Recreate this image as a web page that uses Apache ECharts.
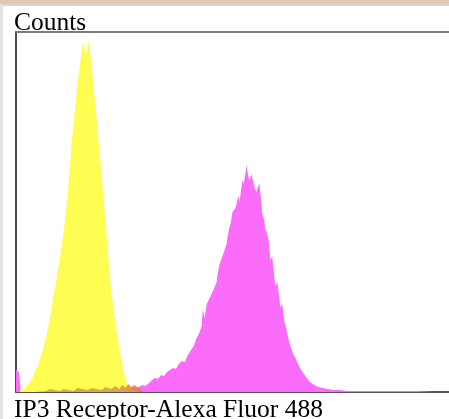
<!DOCTYPE html>
<html><head><meta charset="utf-8">
<script src="https://cdn.jsdelivr.net/npm/echarts@6/dist/echarts.min.js"></script>
<style>html,body{margin:0;padding:0;background:#fff;}#c{width:449px;height:419px;}</style>
</head><body><div id="c"></div>
<script>
// channel positions (fluorescence channel) and event counts
const yellowCh = [4,8,11,14,17,20,23,26,29,32,35,37,40,43,46,48,50,52,54,56,58,60,62,64,66,67,69,71,73,74,76,78,80,82,84,86,88,90,92,94,96,98,100,102,104,106,108,110,112,115,119,124];
const yellowCounts = [2,3,6,10,15,22,29,38,50,63,78,92,108,126,146,160,178,196,222,248,268,288,308,324,340,350,343,338,352,346,328,305,288,265,240,220,198,172,148,122,100,85,70,55,44,32,22,14,8,4,2,0];

const magentaCh = [0,3,5,40,80,109,114,119,124,127,130,134,137,140,143,146,149,152,155,158,161,164,167,170,173,175,177,179,181,183,185,187,188,190,192,194,196,198,200,202,203,205,206,208,210,212,213,215,216,218,219,221,222,224,225,227,228,229,231,232,234,235,237,239,240,242,244,245,247,248,250,251,253,255,256,258,260,261,263,265,266,268,270,272,274,276,278,280,282,284,286,288,290,292,294,296,299,302,305,309,314,320,326,334,344,364,384,404,420];
const magentaCounts = [22,20,0,1,1,2,3,4,5,7,6,9,12,14,13,17,16,20,22,24,23,28,31,30,37,40,38,46,52,50,60,66,82,74,88,90,96,98,105,110,118,128,130,136,142,148,155,165,168,180,178,184,186,196,190,205,212,208,218,227,215,212,218,210,205,200,198,209,190,178,172,163,158,148,132,136,115,106,110,96,85,88,72,64,55,47,41,36,33,28,24,21,18,15,13,10,8,6,5,4,3,2,2,1,1,1,1,1,0];

const overlapCh = [20,30,34,44,48,58,62,72,76,86,90,96,100,104,107,110,113,116,119,122,125,128];
const overlapCounts = [0,1,3,1,3,1,4,2,4,2,5,3,6,3,7,4,8,5,7,5,4,0];

function pairs(xs, ys){ return xs.map((x,i)=>[x, ys[i]]); }

const chart = echarts.init(document.getElementById('c'), null, {renderer:'canvas'});
chart.setOption({
  animation:false,
  backgroundColor:'#fff',
  grid:{left:16, top:32, right:-4, bottom:27},
  xAxis:[
    {type:'value', min:0, max:436, position:'bottom', axisLine:{show:true, lineStyle:{color:'#5e4e5e', width:2}}, axisTick:{show:false}, axisLabel:{show:false}, splitLine:{show:false}},
    {type:'value', min:0, max:436, position:'top', axisLine:{show:true, lineStyle:{color:'#7a7a7a', width:2}}, axisTick:{show:false}, axisLabel:{show:false}, splitLine:{show:false}}
  ],
  yAxis:{type:'value', min:0, max:360, axisLine:{show:true, lineStyle:{color:'#4a4a4a', width:2}}, axisTick:{show:false}, axisLabel:{show:false}, splitLine:{show:false}},
  series:[
    {type:'line', data:pairs(magentaCh, magentaCounts), showSymbol:false, lineStyle:{width:0}, areaStyle:{color:'#fb6cfb', opacity:1}, z:2},
    {type:'line', data:pairs(yellowCh, yellowCounts), showSymbol:false, lineStyle:{width:0}, areaStyle:{color:'#fdfd52', opacity:1}, z:3},
    {type:'line', data:pairs(overlapCh, overlapCounts), showSymbol:false, lineStyle:{width:0}, areaStyle:{opacity:0.85, color:new echarts.graphic.LinearGradient(0,0,1,0,[{offset:0,color:'#c0ac48'},{offset:0.75,color:'#d09a4a'},{offset:1,color:'#f07050'}])}, z:4}
  ],
  graphic:[
    {type:'rect', shape:{x:0,y:0,width:449,height:4}, style:{fill:'#e4c6b8'}, z:10},
    {type:'rect', shape:{x:0,y:4,width:449,height:2}, style:{fill:'#d4d4d4'}, z:10},
    {type:'rect', shape:{x:0,y:4,width:3,height:415}, style:{fill:'#e2e2e2'}, z:10},
    {type:'text', left:14, top:10, style:{text:'Counts', font:'25.5px "Liberation Serif", serif', fill:'#000'}, z:10},
    {type:'text', left:14, top:397, style:{text:'IP3 Receptor-Alexa Fluor 488', font:'25.5px "Liberation Serif", serif', fill:'#000'}, z:10}
  ]
});
</script>
</body></html>
